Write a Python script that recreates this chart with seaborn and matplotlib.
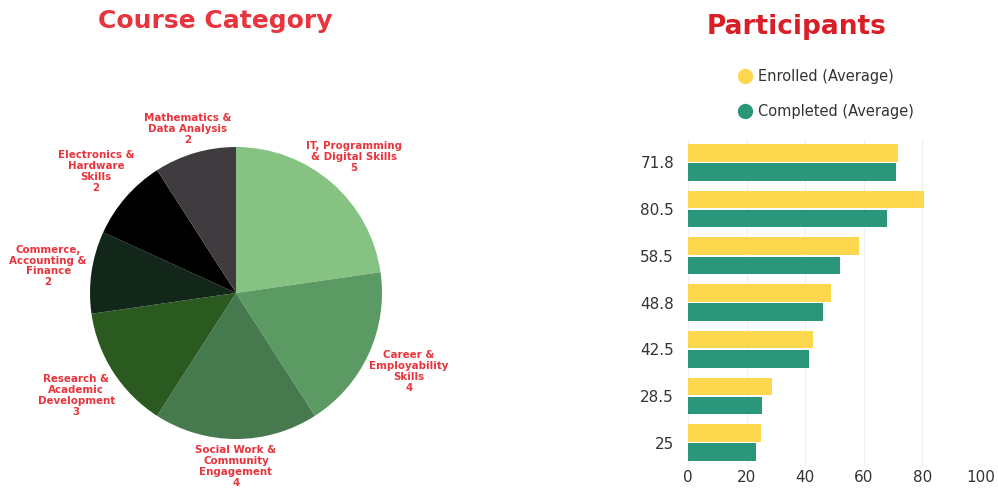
import numpy as np
import pandas as pd
import matplotlib
matplotlib.use("Agg")
import matplotlib.pyplot as plt
from matplotlib.lines import Line2D
import seaborn as sns

# Course categories and number of courses in each
categories = [
    "IT, Programming\n& Digital Skills",
    "Career &\nEmployability\nSkills",
    "Social Work &\nCommunity\nEngagement",
    "Research &\nAcademic\nDevelopment",
    "Commerce,\nAccounting &\nFinance",
    "Electronics &\nHardware\nSkills",
    "Mathematics &\nData Analysis",
]
course_counts = [5, 4, 4, 3, 2, 2, 2]
slice_colors = ["#86c282", "#5b9a62", "#467a4e", "#2a5a1f", "#13261a", "#000000", "#3f3b3f"]

# Participants per course category (averages)
enrolled = [71.8, 80.5, 58.5, 48.8, 42.5, 28.5, 25]
completed = [71.0, 67.8, 52.0, 46.0, 41.4, 25.4, 23.3]
x_ticks = [0, 20, 40, 60, 80, 100]

RED = "#e8343c"
DARK_RED = "#d81f27"
YELLOW = "#fdd84f"
TEAL = "#2a977a"
TEXT = "#333333"

sns.set_theme(style="white")
plt.rcParams["font.family"] = ["DejaVu Sans"]

fig = plt.figure(figsize=(9.98, 4.94), dpi=100)
W, H = 998, 494

def px_axes(left, top, right, bottom):
    return fig.add_axes([left / W, 1 - bottom / H, (right - left) / W, (bottom - top) / H])

# ---- Pie: course categories ----
pax = px_axes(90, 147, 382, 439)
wedges, _ = pax.pie(course_counts, colors=slice_colors, startangle=90,
                    counterclock=False, radius=1.0,
                    wedgeprops=dict(linewidth=0))
pax.set_xlim(-1, 1)
pax.set_ylim(-1, 1)
pax.set_aspect("equal")

label_dist = [1.23, 1.30, 1.19, 1.30, 1.30, 1.27, 1.17]
for w, name, n, d in zip(wedges, categories, course_counts, label_dist):
    ang = np.deg2rad((w.theta1 + w.theta2) / 2)
    pax.text(d * np.cos(ang), d * np.sin(ang), f"{name}\n{n}",
             ha="center", va="center", color=RED, fontsize=7.4,
             fontweight="bold", linespacing=1.12, clip_on=False)

fig.text(215 / W, 1 - 21 / H, "Course Category", ha="center", va="center",
         color=RED, fontsize=18, fontweight="bold")

# ---- Bars: participants ----
labels = [f"{v:g}" for v in enrolled]
df = pd.DataFrame({
    "group": labels * 2,
    "value": enrolled + completed,
    "series": ["Enrolled (Average)"] * len(labels) + ["Completed (Average)"] * len(labels),
})

bax = px_axes(688, 139, 981, 466)
sns.barplot(data=df, y="group", x="value", hue="series", order=labels,
            palette=[YELLOW, TEAL], width=0.82, gap=0.08, ax=bax,
            legend=False, saturation=1, linewidth=0)
bax.set_xlim(0, 100)
bax.set_xticks(x_ticks)
bax.set_xlabel("")
bax.set_ylabel("")
for s in bax.spines.values():
    s.set_visible(False)
bax.xaxis.grid(True, color="#efefef", linewidth=0.8)
bax.set_axisbelow(True)
bax.tick_params(axis="both", length=0, labelsize=11, labelcolor=TEXT)
bax.tick_params(axis="y", pad=10)
bax.tick_params(axis="x", pad=3)

fig.text(797 / W, 1 - 27 / H, "Participants", ha="center", va="center",
         color=DARK_RED, fontsize=19, fontweight="bold")

handles = [
    Line2D([], [], marker="o", linestyle="", markersize=10,
           markerfacecolor=YELLOW, markeredgecolor=YELLOW),
    Line2D([], [], marker="o", linestyle="", markersize=10,
           markerfacecolor=TEAL, markeredgecolor=TEAL),
]
fig.legend(handles, ["Enrolled (Average)", "Completed (Average)"],
           loc="upper left", bbox_to_anchor=(723 / W, 1 - 56 / H),
           frameon=False, fontsize=10.5, labelcolor=TEXT,
           handletextpad=0.3, labelspacing=1.35, handlelength=1.2)

fig.savefig("out.png", dpi=100, facecolor="white")
